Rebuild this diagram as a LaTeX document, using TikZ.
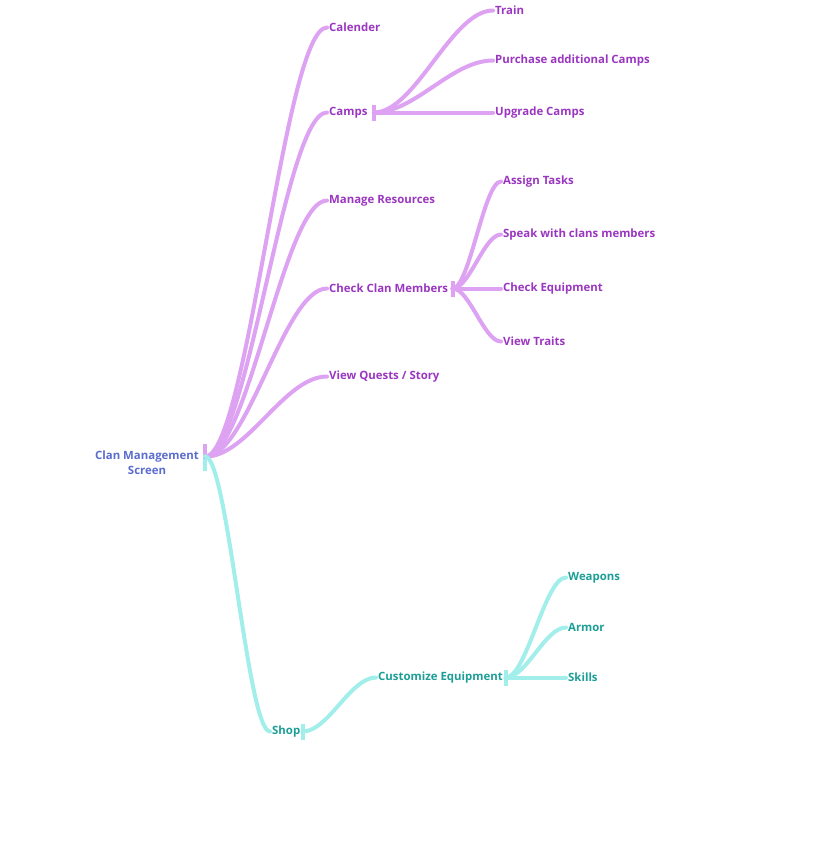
\documentclass[tikz,border=0pt]{standalone}
\usepackage{fontspec}
\setmainfont{Open Sans}
\usetikzlibrary{positioning, calc}
\definecolor{violine}{HTML}{DDA2F2}
\definecolor{viotext}{HTML}{9A36C0}
\definecolor{tealline}{HTML}{A2EEEA}
\definecolor{tealtext}{HTML}{1C9E96}
\definecolor{roottext}{HTML}{5A6CCE}
\tikzset{
  item/.style    = {anchor=west, inner xsep=2pt, inner ysep=1pt, font=\fontsize{11.4}{13}\selectfont\bfseries},
  vitem/.style   = {item, text=viotext},
  titem/.style   = {item, text=tealtext},
  bar/.style     = {inner sep=0pt, minimum width=4pt, minimum height=16pt},
  vbar/.style    = {bar, fill=violine},
  tbar/.style    = {bar, fill=tealline},
  branch/.style  = {line width=4pt, line cap=round,
                    to path={let \p1=(\tikztostart), \p2=(\tikztotarget) in
                      .. controls ({\x1+0.35*(\x2-\x1)},\y1) and ({\x2-0.35*(\x2-\x1)},\y2) .. (\tikztotarget)}},
  vbr/.style     = {branch, draw=violine},
  tbr/.style     = {branch, draw=tealline},
}

\begin{document}
\begin{tikzpicture}[x=1pt, y=-1pt]
\useasboundingbox (0,0) rectangle (814,855);

% root
\node[font=\fontsize{11.4}{15.5}\selectfont\bfseries, text=roottext, align=center] (root) at (147,462.5) {Clan Management\\Screen};
\node[vbar, minimum height=13pt] (rbv) at (205,450) {};
\node[tbar, minimum height=14pt] (rbt) at (205,463.5) {};

% first level
\node[vitem] (cal)    at (327,27.5)  {Calender};
\node[vitem] (camps)  at (327,112.5) {Camps};
\node[vitem] (res)    at (327,200.5) {Manage Resources};
\node[vitem] (clan)   at (327,288.5) {Check Clan Members};
\node[vitem] (quest)  at (327,376.5) {View Quests / Story};
\node[titem] (shop)   at (270,731.5) {Shop};

\node[vbar, right=2pt of camps] (campsbar) {};
\node[vbar, right=0pt of clan]  (clanbar)  {};
\node[tbar, right=-2pt of shop] (shopbar)  {};

% camps
\node[vitem] (train)  at (493,10.5)  {Train};
\node[vitem] (buy)    at (493,60.5)  {Purchase additional Camps};
\node[vitem] (upg)    at (493,112.5) {Upgrade Camps};

% clan members
\node[vitem] (task)   at (501,181.5) {Assign Tasks};
\node[vitem] (speak)  at (501,234.5) {Speak with clans members};
\node[vitem] (equip)  at (501,288.5) {Check Equipment};
\node[vitem] (trait)  at (501,341.5) {View Traits};

% shop
\node[titem] (cust)   at (376,677.5) {Customize Equipment};
\node[tbar, right=-1.5pt of cust] (custbar) {};
\node[titem] (weap)   at (566,577.5) {Weapons};
\node[titem] (armor)  at (566,627.5) {Armor};
\node[titem] (skill)  at (566,677.5) {Skills};

\foreach \k in {cal, camps, res, clan, quest}
  \draw[vbr] (rbv.south) to (\k.west);
\draw[tbr] (rbt.north) to (shop.west);

\foreach \k in {train, buy, upg}
  \draw[vbr] (campsbar.center) to (\k.west);
\foreach \k in {task, speak, equip, trait}
  \draw[vbr] (clanbar.center) to (\k.west);

\draw[tbr] (shopbar.center) to (cust.west);
\foreach \k in {weap, armor, skill}
  \draw[tbr] (custbar.center) to (\k.west);
\end{tikzpicture}
\end{document}
